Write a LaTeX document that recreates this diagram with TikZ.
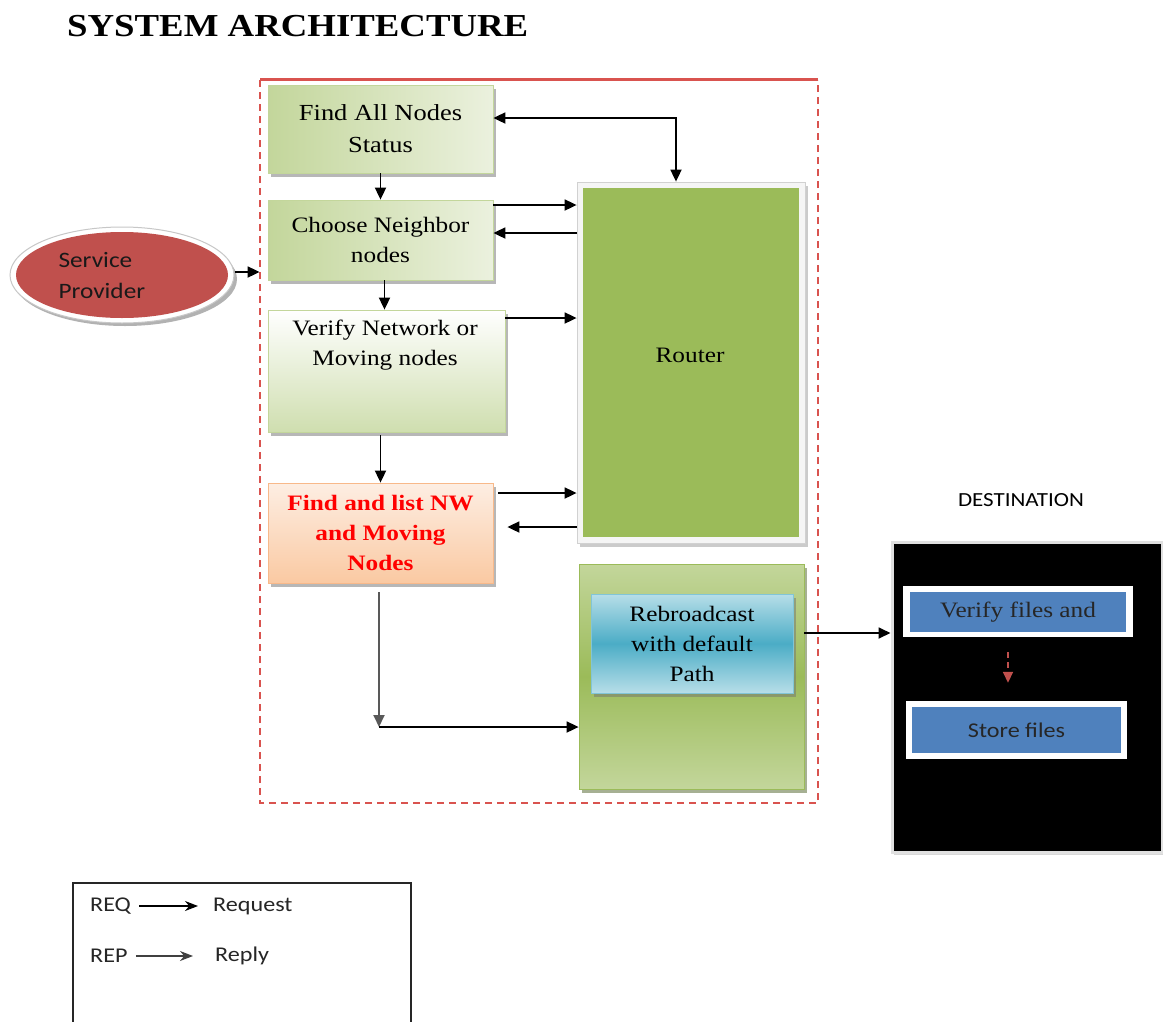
\documentclass[tikz,border=0pt]{standalone}
\usepackage{fontspec}
\setmainfont{Liberation Serif}[FakeStretch=1.15]
\setsansfont{Carlito}[FakeStretch=1.15]
\usetikzlibrary{arrows.meta,shadows,calc,shapes.geometric}
\definecolor{frameRed}{HTML}{D9534F}
\definecolor{gLight}{HTML}{EBF1DE}
\definecolor{gMid}{HTML}{C3D69B}
\definecolor{gDark}{HTML}{9BBB59}
\definecolor{gShadow}{HTML}{4F6228}
\definecolor{oLight}{HTML}{FDEEE3}
\definecolor{oMid}{HTML}{FAC9A2}
\definecolor{oBorder}{HTML}{F8B98A}
\definecolor{bLight}{HTML}{B7DEE8}
\definecolor{bMid}{HTML}{4BACC6}
\definecolor{bBlue}{HTML}{4F81BD}
\definecolor{spRed}{HTML}{C0504D}
\tikzset{
  x=1pt, y=-1pt,
  boxtxt/.style={font=\fontsize{22}{30}\selectfont, align=center, text=black},
  shad/.style={drop shadow={shadow xshift=3pt, shadow yshift=-4pt, fill=black!35, opacity=0.8}},
  greenbox/.style={draw=gMid, line width=0.8pt, shad, inner sep=0pt},
  tip/.style={},
  arr/.style={-{Triangle[length=12pt,width=11pt]}, line width=1.8pt},
  larr/.style={-{Stealth[length=13pt,width=10pt]}, line width=1.4pt},
  sans/.style={font=\sffamily\fontsize{21}{30}\selectfont, text=black!85},
}
\begin{document}
\begin{tikzpicture}
\useasboundingbox (0,0) rectangle (1163,1021);
\fill[white] (0,0) rectangle (1163,1021);

% title
\node[font=\fontsize{32}{36}\selectfont\bfseries, anchor=base west, inner sep=0pt] (title) at (67,36) {SYSTEM ARCHITECTURE};

% red frame
\draw[frameRed, line width=1.2pt, dash pattern=on 7pt off 5pt] (260,80) -- (260,803) -- (818,803) -- (818,80);
\draw[frameRed, line width=3pt] (260,79) -- (818,79);

% green boxes
\node[greenbox, minimum width=225pt, minimum height=88pt, shading angle=300, left color=gMid, right color=gLight, boxtxt, font=\fontsize{23}{32}\selectfont] (find) at (380.5,129) {Find All Nodes\\Status};
\node[greenbox, minimum width=225pt, minimum height=80pt, shading angle=300, left color=gMid, right color=gLight, boxtxt] (choose) at (380.5,240) {Choose Neighbor\\nodes};
\node[greenbox, minimum width=237pt, minimum height=122pt, top color=white, bottom color=gMid!80] (verify) at (386.5,371) {};
\node[boxtxt] (verifytxt) at (385,345) {Verify Network or\\Moving nodes};

% orange box
\node[draw=oBorder, line width=0.8pt, shad, minimum width=225pt, minimum height=100pt, top color=oLight, bottom color=oMid, boxtxt, text=red, font=\fontsize{22}{30}\selectfont\bfseries] (findlist) at (380.5,533) {Find and list NW\\and Moving\\Nodes};

% router
\node[draw=black!18, fill=black!4, line width=0.8pt, drop shadow={shadow xshift=3pt, shadow yshift=-4pt, fill=black!40}, minimum width=228pt, minimum height=361pt] (router) at (691,362.5) {};
\node[fill=gDark, minimum width=216pt, minimum height=349pt] (routerin) at (691,362.5) {};
\node[boxtxt] (routertxt) at (690,355) {Router};

% lower green box
\node[draw=gDark, line width=0.8pt, drop shadow={shadow xshift=3pt, shadow yshift=-4pt, fill=gShadow}, minimum width=225pt, minimum height=225pt, top color=gMid, bottom color=gMid, middle color=gDark] (lower) at (691.5,676.5) {};
\node[draw=bMid!70, line width=0.8pt, drop shadow={shadow xshift=3pt, shadow yshift=-4pt, fill=black!55}, minimum width=202pt, minimum height=99pt, top color=bLight, bottom color=bLight, middle color=bMid, boxtxt] (rebroad) at (692,643.5) {Rebroadcast\\with default\\Path};

% service provider
\fill[black!30] (125,279) ellipse [x radius=112pt, y radius=47pt];
\node[ellipse, draw=black!22, line width=1pt, fill=white, minimum width=224pt, minimum height=96pt, inner sep=0pt] (serviceout) at (122,275) {};
\node[ellipse, fill=spRed, minimum width=212pt, minimum height=86pt, inner sep=0pt] (service) at (122,275) {};
\node[sans, font=\sffamily\fontsize{22}{31}\selectfont, align=left, anchor=west, text=black!90] (servicetxt) at (55,275.5) {Service\\Provider};

% destination
\node[sans, font=\sffamily\fontsize{20}{24}\selectfont, text=black] (desttitle) at (1021,500) {DESTINATION};
\node[fill=black, draw=black!12, line width=3pt, drop shadow={shadow xshift=2pt, shadow yshift=-3pt, fill=black!30}, minimum width=270pt, minimum height=310pt] (dest) at (1027,697) {};
\node[fill=white, minimum width=230pt, minimum height=51pt] (vfframe) at (1018,611.5) {};
\node[fill=bBlue, minimum width=216pt, minimum height=40pt, boxtxt, text=black!85] (vf) at (1018,612) {Verify files and};
\node[fill=white, minimum width=221pt, minimum height=58pt] (sfframe) at (1016.5,730) {};
\node[fill=bBlue, minimum width=209pt, minimum height=46pt, sans, font=\sffamily\fontsize{21}{26}\selectfont, text=black!85] (sf) at (1016.5,730) {Store files};
\draw[spRed, line width=1.6pt, dash pattern=on 6pt off 4pt, -{Triangle[length=11pt,width=10pt]}] ($(vfframe.south)+(-10,15)$) -- ($(sfframe.north)+(-8.5,-18)$);

% arrows
\draw[arr, {Triangle[length=12pt,width=11pt]}-{Triangle[length=12pt,width=11pt]}] (find.east |- 0,118) -| ([xshift=-15pt]router.north);
\draw[arr] (find.south) -- (choose.north);
\draw[arr] (choose.east |- 0,205) -- (router.west |- 0,205);
\draw[arr] (router.west |- 0,233) -- (choose.east |- 0,233);
\draw[arr] ([xshift=4pt]choose.south) -- ([xshift=-2pt]verify.north);
\draw[arr] (verify.east |- 0,318) -- (router.west |- 0,318);
\draw[arr] ([yshift=-3pt]verify.south -| findlist.north) -- (findlist.north);
\draw[arr, shorten <=5pt] (findlist.east |- 0,493) -- (router.west |- 0,493);
\draw[arr, shorten >=14pt] (router.west |- 0,527) -- (findlist.east |- 0,527);
\coordinate (corner) at (379,727);
\draw[arr, black!65, shorten <=9pt] (findlist.south -| corner) -- (corner);
\draw[arr] (corner) -- (lower.west |- corner);
\draw[arr, shorten >=8pt] (serviceout.east |- 0,272) -- (choose.west |- 0,272);
\draw[arr] (lower.east |- 0,633) -- (dest.west |- 0,633);

% legend
\draw[black!85, line width=1.5pt] (73,1025) -- (73,883) -- (411,883) -- (411,1025);
\node[sans, anchor=west, inner sep=0pt] (req) at (90,906) {REQ};
\node[sans, anchor=west, inner sep=0pt] (request) at (213,906) {Request};
\draw[larr] (req.east) ++(8,0) coordinate (reqa) -- (request.west -| 198,0);
\node[sans, anchor=west, inner sep=0pt] (rep) at (90,956) {REP};
\node[sans, anchor=west, inner sep=0pt] (reply) at (215,956) {Reply};
\draw[larr, black!75] (rep.east) ++(8,0) coordinate (repa) -- (reply.west -| 193,0);
\end{tikzpicture}
\end{document}
